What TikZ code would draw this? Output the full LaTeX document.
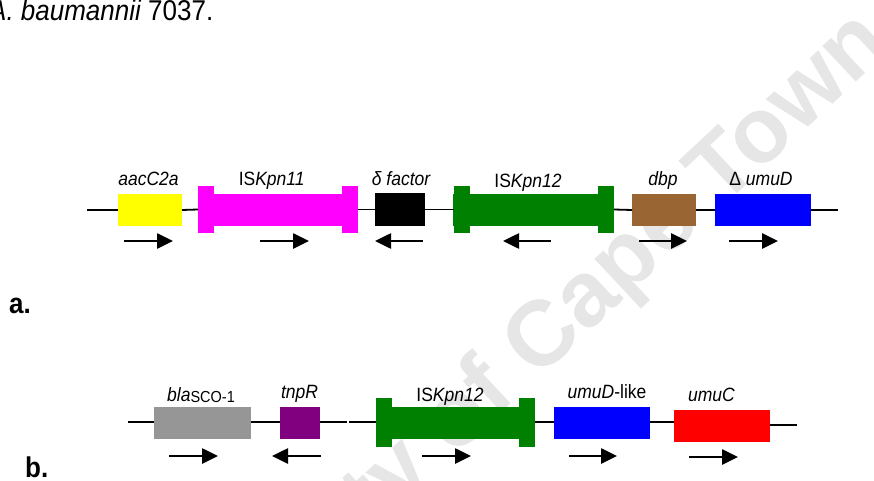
\documentclass[tikz,border=0pt]{standalone}
\usepackage{fontspec}
\setmainfont{Liberation Sans}
\usepackage{graphicx}
\usetikzlibrary{arrows.meta}
\definecolor{gyellow}{HTML}{FFFF00}
\definecolor{gmagenta}{HTML}{FF00FF}
\definecolor{ggreen}{HTML}{008000}
\definecolor{gbrown}{HTML}{996633}
\definecolor{gblue}{HTML}{0000FF}
\definecolor{ggray}{HTML}{969696}
\definecolor{gpurple}{HTML}{800080}
\definecolor{gred}{HTML}{FF0000}
\definecolor{wmark}{HTML}{E6E6E6}
\newcommand{\vst}[1]{\scalebox{1}[1.1]{#1}}
\begin{document}
\begin{tikzpicture}[x=1pt,y=-1pt,
  genebox/.style={draw=none,inner sep=0pt,outer sep=0pt,minimum height=32pt},
  capbox/.style={draw=none,inner sep=0pt,outer sep=0pt,minimum width=16pt,minimum height=47pt},
  backbone/.style={line width=1.8pt,black},
  dirarrow/.style={line width=2.6pt,-{Triangle[length=16pt,width=15pt]}},
  glabel/.style={anchor=base,inner sep=0pt,font=\fontsize{17.5}{20}\selectfont},
  panel/.style={anchor=base west,inner sep=0pt,font=\fontsize{26}{30}\selectfont\bfseries}]
\useasboundingbox (0,0) rectangle (874,481);
% watermark
\node[anchor=base,inner sep=0pt,rotate=43,text=wmark,font=\fontsize{92.5}{100}\selectfont\bfseries] (wm) at (501,414) {University of Cape Town};
% title
\node[anchor=base west,inner sep=0pt,font=\fontsize{26}{30}\selectfont] (title) at (-11,21) {\vst{\itshape A. baumannii\upshape{} 7037.}};
% panel labels
\node[panel] (pa) at (9,313) {\vst{a.}};
\node[panel] (pb) at (25,477) {\vst{b.}};

% ---------------- row a ----------------
\node[genebox,fill=gyellow,minimum width=64pt] (aac) at (150,210) {};
\node[genebox,fill=gmagenta,minimum width=160pt] (is11) at (278,210) {};
\node[capbox,fill=gmagenta] (is11L) at (206,209.5) {};
\node[capbox,fill=gmagenta] (is11R) at (350,209.5) {};
\node[genebox,fill=black,minimum width=50pt,minimum height=33pt] (dfac) at (400,209.5) {};
\node[genebox,fill=ggreen,minimum width=161pt] (is12a) at (533.5,210) {};
\node[capbox,fill=ggreen] (is12aL) at (461.5,209.5) {};
\node[capbox,fill=ggreen] (is12aR) at (606,209.5) {};
\node[genebox,fill=gbrown,minimum width=64pt] (dbp) at (664,210) {};
\node[genebox,fill=gblue,minimum width=96pt] (umuDa) at (763,210) {};

\coordinate (aS) at (87,210);
\coordinate (aE) at (838,210);
\draw[backbone] (aS) -- (aac.west);
\draw[backbone] (aac.east) -- (is11L.west);
\draw[backbone] (is11R.east) -- (dfac.west);
\draw[backbone] (dfac.east) -- (is12aL.west);
\draw[backbone] (is12aR.east) -- (dbp.west);
\draw[backbone] (dbp.east) -- (umuDa.west);
\draw[backbone] (umuDa.east) -- (aE);

\node[glabel] (l1) at (148.5,185) {\vst{\itshape aacC2a}};
\node[glabel] (l2) at (271.7,185) {\vst{IS\textit{Kpn11}}};
\node[glabel] (l3) at (401,185.5) {\vst{\itshape δ factor}};
\node[glabel] (l4) at (528,187.5) {\vst{IS\textit{Kpn12}}};
\node[glabel] (l5) at (663,185) {\vst{\itshape dbp}};
\node[glabel] (l6) at (761,185) {\vst{Δ \textit{umuD}}};

\draw[dirarrow] (124,241) -- (173,241);
\draw[dirarrow] (260,241) -- (309,241);
\draw[dirarrow] (423,241) -- (375,241);
\draw[dirarrow] (551,241) -- (503,241);
\draw[dirarrow] (639,241) -- (687,241);
\draw[dirarrow] (729,241) -- (778,241);

% ---------------- row b ----------------
\node[genebox,fill=ggray,minimum width=97pt] (bla) at (202.5,423) {};
\node[genebox,fill=gpurple,minimum width=40pt] (tnp) at (300,423) {};
\node[genebox,fill=ggreen,minimum width=159pt] (is12b) at (455.5,423) {};
\node[capbox,fill=ggreen,minimum height=49pt] (is12bL) at (384,422.5) {};
\node[capbox,fill=ggreen,minimum height=49pt] (is12bR) at (527,422.5) {};
\node[genebox,fill=gblue,minimum width=96pt] (umuDb) at (602,423) {};
\node[genebox,fill=gred,minimum width=96pt] (umuC) at (722,426) {};

\coordinate (bS) at (128,422);
\coordinate (bG1) at (347,422);
\coordinate (bG2) at (349,422);
\coordinate (bE) at (797,425);
\draw[backbone] (bS) -- (bla.west |- bS);
\draw[backbone] (bla.east |- bS) -- (tnp.west |- bS);
\draw[backbone] (tnp.east |- bS) -- (bG1);
\draw[backbone] (bG2) -- (is12bL.west |- bS);
\draw[backbone] (is12bR.east |- bS) -- (umuDb.west |- bS);
\draw[backbone] (umuDb.east |- bS) -- (umuC.west |- bS);
\draw[backbone] (umuC.east |- bE) -- (bE);

\node[glabel] (m1) at (201,401.5) {\vst{\textit{bla}\raisebox{-1pt}{\fontsize{14.5}{16}\selectfont SCO-1}}};
\node[glabel] (m2) at (299.5,398) {\vst{\itshape tnpR}};
\node[glabel] (m3) at (450,401.5) {\vst{IS\textit{Kpn12}}};
\node[glabel] (m4) at (607,398.5) {\vst{\textit{umuD}-like}};
\node[glabel] (m5) at (711.5,401.5) {\vst{\itshape umuC}};

\draw[dirarrow] (169,456) -- (218,456);
\draw[dirarrow] (321,456) -- (272,456);
\draw[dirarrow] (422,456) -- (471,456);
\draw[dirarrow] (569,456) -- (617,456);
\draw[dirarrow] (689,457) -- (738,457);
\end{tikzpicture}
\end{document}
